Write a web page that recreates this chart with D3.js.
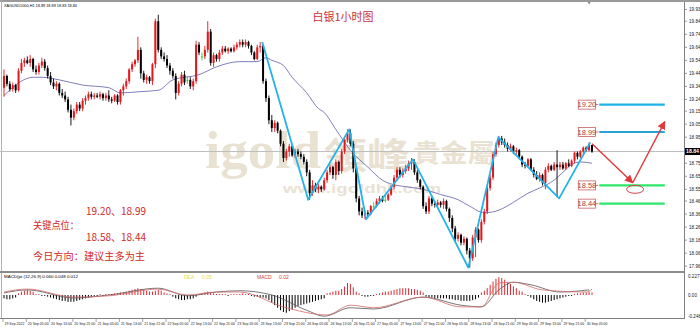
<!DOCTYPE html>
<html><head><meta charset="utf-8">
<script src="https://cdn.jsdelivr.net/npm/d3@7/dist/d3.min.js"></script>
<style>html,body{margin:0;padding:0;background:#fff;overflow:hidden}svg{display:block}</style>
</head><body><svg id="c" width="700" height="328"></svg>
<script>
// ---------- DATA ----------
const openP = [19.33,19.42,19.36,19.32,19.35,19.31,19.46,19.52,19.54,19.52,19.55,19.47,19.45,19.50,19.53,19.48,19.42,19.37,19.34,19.36,
19.29,19.27,19.24,19.16,19.10,19.15,19.20,19.17,19.23,19.25,19.28,19.26,19.27,19.26,19.28,19.25,19.27,19.24,19.23,19.27,
19.22,19.31,19.34,19.38,19.47,19.51,19.54,19.62,19.44,19.39,19.41,19.38,19.51,19.84,19.62,19.57,19.55,19.50,19.46,19.42,
19.29,19.36,19.43,19.39,19.39,19.34,19.38,19.66,19.57,19.57,19.62,19.76,19.52,19.58,19.55,19.60,19.63,19.61,19.63,19.61,
19.64,19.66,19.68,19.66,19.68,19.65,19.60,19.55,19.64,19.65,19.38,19.25,19.08,19.02,19.06,19.00,18.90,18.79,18.84,18.88,
18.81,18.84,18.82,18.80,18.76,18.68,18.52,18.58,18.55,18.57,18.55,18.62,18.68,18.72,18.66,18.76,18.69,18.84,18.93,18.98,
18.90,18.71,18.48,18.38,18.35,18.37,18.36,18.42,18.42,18.46,18.48,18.47,18.47,18.51,18.57,18.64,18.70,18.66,18.69,18.71,
18.75,18.76,18.68,18.62,18.57,18.42,18.38,18.48,18.44,18.43,18.45,18.43,18.46,18.40,18.33,18.25,18.17,18.20,18.14,18.17,
18.08,18.02,18.18,18.24,18.16,18.30,18.38,18.56,18.64,18.82,18.89,18.94,18.91,18.89,18.86,18.88,18.84,18.85,18.80,18.74,
18.73,18.78,18.70,18.66,18.63,18.66,18.60,18.70,18.73,18.70,18.74,18.72,18.74,18.71,18.75,18.73,18.77,18.83,18.80,18.84,
18.87,18.85,18.89];
const highP = [19.47,19.43,19.38,19.37,19.36,19.48,19.55,19.56,19.57,19.58,19.56,19.50,19.52,19.56,19.55,19.50,19.45,19.40,19.38,19.37,
19.32,19.30,19.26,19.20,19.17,19.22,19.22,19.25,19.27,19.30,19.30,19.29,19.29,19.30,19.29,19.29,19.31,19.26,19.28,19.28,
19.32,19.36,19.40,19.48,19.53,19.55,19.72,19.64,19.46,19.43,19.42,19.52,19.86,19.89,19.64,19.60,19.58,19.52,19.48,19.44,
19.38,19.45,19.46,19.42,19.41,19.40,19.69,19.68,19.60,19.65,19.84,19.78,19.60,19.59,19.62,19.65,19.65,19.64,19.64,19.66,
19.68,19.70,19.70,19.70,19.69,19.66,19.61,19.66,19.68,19.66,19.40,19.27,19.12,19.08,19.07,19.01,18.92,18.86,18.90,18.89,
18.86,18.86,18.84,18.82,18.78,18.70,18.62,18.60,18.59,18.58,18.64,18.70,18.74,18.73,18.78,18.77,18.86,18.95,19.01,19.01,
18.92,18.73,18.50,18.41,18.39,18.39,18.43,18.45,18.48,18.50,18.50,18.50,18.52,18.58,18.66,18.72,18.72,18.71,18.74,18.77,
18.79,18.78,18.70,18.63,18.58,18.45,18.50,18.49,18.46,18.47,18.46,18.48,18.47,18.41,18.35,18.27,18.22,18.21,18.19,18.18,
18.10,18.20,18.26,18.25,18.32,18.40,18.58,18.66,18.84,18.91,18.96,18.96,18.94,18.91,18.90,18.89,18.87,18.86,18.81,18.76,
18.79,18.79,18.72,18.69,18.68,18.67,18.72,18.75,18.74,18.76,18.85,18.76,18.76,18.76,18.78,18.78,18.84,18.84,18.85,18.88,
18.88,18.91,18.89];
const lowP = [19.26,19.34,19.30,19.30,19.29,19.30,19.44,19.49,19.51,19.49,19.45,19.43,19.43,19.48,19.46,19.40,19.35,19.32,19.31,19.27,
19.25,19.22,19.14,19.04,19.08,19.13,19.15,19.15,19.20,19.23,19.24,19.24,19.25,19.24,19.23,19.23,19.22,19.21,19.22,19.20,
19.20,19.27,19.32,19.36,19.45,19.49,19.52,19.40,19.37,19.36,19.36,19.35,19.48,19.60,19.55,19.53,19.48,19.43,19.40,19.24,
19.27,19.34,19.35,19.36,19.32,19.31,19.36,19.58,19.54,19.55,19.60,19.50,19.49,19.53,19.53,19.58,19.60,19.59,19.60,19.60,
19.62,19.64,19.64,19.64,19.63,19.58,19.54,19.54,19.60,19.36,19.22,19.05,18.99,18.99,18.98,18.88,18.76,18.77,18.80,18.80,
18.79,18.80,18.78,18.74,18.65,18.47,18.50,18.53,18.52,18.53,18.54,18.60,18.66,18.63,18.62,18.66,18.67,18.82,18.91,18.88,
18.68,18.45,18.35,18.33,18.32,18.34,18.35,18.40,18.41,18.44,18.45,18.45,18.46,18.50,18.55,18.62,18.64,18.64,18.67,18.69,
18.70,18.66,18.60,18.55,18.40,18.36,18.36,18.42,18.41,18.41,18.41,18.40,18.38,18.30,18.22,18.15,18.15,18.12,18.12,18.05,
17.95,18.00,18.03,18.14,18.14,18.28,18.36,18.54,18.62,18.80,18.87,18.89,18.87,18.84,18.84,18.82,18.81,18.78,18.72,18.71,
18.72,18.69,18.64,18.62,18.61,18.58,18.55,18.68,18.69,18.69,18.49,18.70,18.70,18.70,18.72,18.72,18.75,18.78,18.79,18.82,
18.84,18.84,18.83];
const closeP = [19.42,19.36,19.32,19.35,19.31,19.46,19.52,19.54,19.52,19.55,19.47,19.45,19.50,19.53,19.48,19.42,19.37,19.34,19.36,19.29,
19.27,19.24,19.16,19.10,19.15,19.20,19.17,19.23,19.25,19.28,19.26,19.27,19.26,19.28,19.25,19.27,19.24,19.23,19.27,19.22,
19.31,19.34,19.38,19.47,19.51,19.54,19.62,19.44,19.39,19.41,19.38,19.51,19.84,19.62,19.57,19.55,19.50,19.46,19.42,19.29,
19.36,19.43,19.37,19.39,19.34,19.38,19.66,19.60,19.57,19.62,19.76,19.52,19.58,19.55,19.60,19.63,19.61,19.63,19.61,19.64,
19.66,19.68,19.66,19.68,19.65,19.60,19.55,19.64,19.65,19.38,19.25,19.08,19.02,19.06,19.00,18.90,18.79,18.84,18.88,18.81,
18.84,18.82,18.80,18.76,18.68,18.52,18.58,18.55,18.57,18.55,18.62,18.68,18.72,18.66,18.76,18.69,18.84,18.93,18.98,18.90,
18.71,18.48,18.38,18.35,18.37,18.36,18.42,18.42,18.46,18.48,18.46,18.47,18.51,18.57,18.64,18.70,18.66,18.69,18.71,18.75,
18.76,18.68,18.62,18.57,18.42,18.38,18.48,18.44,18.43,18.45,18.43,18.46,18.40,18.33,18.25,18.17,18.20,18.14,18.17,18.08,
18.02,18.18,18.24,18.16,18.30,18.38,18.56,18.64,18.82,18.89,18.94,18.91,18.89,18.86,18.88,18.84,18.85,18.80,18.74,18.73,
18.78,18.70,18.66,18.63,18.66,18.60,18.70,18.73,18.70,18.74,18.72,18.74,18.71,18.75,18.73,18.77,18.83,18.80,18.84,18.87,
18.85,18.89,18.84];

// moving average (read at sample bars)
const maBar = [0,10,13,19,27,36,40,47,53,58,67,73,81,87,90,92,96,99,104,108,110,114,119,125,130,135,138,144,150,156,160,165,170,175,180,184,189,192,195,198,202];
const maVal = [19.27,19.41,19.41,19.39,19.35,19.33,19.29,19.30,19.31,19.39,19.43,19.49,19.53,19.53,19.56,19.54,19.50,19.41,19.29,19.17,19.14,19.01,18.85,18.72,18.62,18.58,18.57,18.55,18.51,18.47,18.42,18.37,18.39,18.45,18.52,18.56,18.62,18.68,18.74,18.76,18.75];

// MACD histogram, one value per bar
const macdHist = [-0.04,-0.05,-0.05,-0.04,-0.03, 0.02,0.04,0.05,0.06,0.05,0.04, 0.01,0.01,-0.01,-0.01,
-0.02,-0.03,-0.04,-0.05,-0.06,-0.07,-0.07,-0.08,-0.08,-0.08,-0.07,-0.06,-0.05,-0.04,-0.03,
-0.02,-0.01,-0.01,0.01,-0.01,0.01,0.01,0.01,0.02,
0.02,0.03,0.03,0.04,0.05,0.06,0.07,0.08,0.07,0.06,0.05,0.04,
0.04,0.05,0.06,0.05,0.03,0.02, 0.01,
-0.02,-0.04,-0.05,-0.06,-0.06,-0.05,-0.05,-0.04,-0.02,
0.01,0.02,0.03,0.04,0.03,0.02,
0.01,0.01,0.01,0.01,-0.01,0.01,0.01,0.01,
0.01,0.02,0.01,0.01,-0.01,
-0.02,-0.02,-0.03,-0.03,-0.04,-0.06,
-0.09,-0.12,-0.15,-0.18,-0.20,-0.21,-0.19,-0.17,
-0.15,-0.13,-0.12,-0.11,-0.10,-0.09,-0.08,-0.07,-0.06,-0.05,-0.04,
0.02,0.03,0.04,0.05,0.05,
0.07,0.10,0.14,0.13,0.09,0.04,0.02,
-0.01,-0.02,-0.02,-0.01,-0.01,
0.01,0.02,0.03,0.04,0.04,0.05,0.06,0.07,0.08,0.08,0.08,0.08,0.07,0.07,0.06,0.05,0.03,
-0.02,-0.03,-0.03,-0.04,-0.04,-0.04,-0.04,-0.04,-0.05,-0.05,-0.06,-0.06,-0.07,-0.07,-0.07,-0.07,-0.06,-0.05,-0.03,
0.03,0.05,0.08, 0.12,0.16,0.19,0.21,0.20,
0.18,0.15,0.13,0.10,0.08,0.05,0.04, 0.01,-0.01,
-0.03,-0.05,-0.07,-0.08,-0.09,-0.09,-0.08,-0.07,-0.06,-0.05,-0.04,
-0.03,-0.02,-0.01,-0.01,
0.01,0.02,0.02,0.03,0.03,0.04,0.03];
const difBar = [0,8,24,36,53,63,73,81,92,104,110,119,127,144,157,164,170,175,181,191,201];
const difVal = [0.024,0.06,-0.035,0.0,0.08,-0.01,0.035,0.05,0.0,-0.18,-0.25,-0.15,-0.165,-0.025,-0.12,-0.14,0.06,0.15,0.12,0.035,0.06];
const deaBar = [0,8,24,36,53,63,73,81,96,111,119,127,144,157,164,170,175,185,200,202];
const deaVal = [0.035,0.07,-0.025,-0.01,0.07,0.0,0.035,0.035,-0.14,-0.235,-0.12,-0.15,-0.025,-0.14,-0.14,0.14,0.15,0.06,0.035,0.07];

// zigzag
const zzBar = [88.7,104.5,118.6,124.4,140.5,159.5,169.8,190.7,201.4];
const zzPrice = [19.68,18.47,19.01,18.32,18.78,17.95,18.95,18.48,18.91];

// forecast arrows
const fcBar = [202,216,227];
const fcPrice = [18.90,18.60,19.07];

// key levels
const levelVals = [19.20,18.99,18.58,18.44];
const levelLabels = ["19.20","18.99","18.58","18.44"];
const levelColors = ["#1cb4ea","#2aa3d6","#2ee86a","#2ee86a"];

// axis labels
const priceTicks = ["19.93","19.84","19.74","19.64","19.54","19.44","19.34","19.24","19.15","19.05","18.95","18.85","18.75","18.65","18.55","18.46","18.36","18.26","18.16","18.06","17.96"];
const macdTicks = ["0.227","0.00","-0.248"];
const timeLabels = ["19 Sep 2022","20 Sep 05:00","20 Sep 13:00","20 Sep 21:00","21 Sep 05:00","21 Sep 13:00","21 Sep 21:00","22 Sep 05:00","22 Sep 13:00","22 Sep 21:00","23 Sep 05:00","23 Sep 13:00","23 Sep 21:00","26 Sep 05:00","26 Sep 13:00","26 Sep 21:00","27 Sep 05:00","27 Sep 13:00","27 Sep 21:00","28 Sep 05:00","28 Sep 13:00","28 Sep 21:00","29 Sep 05:00","29 Sep 13:00","29 Sep 21:00","30 Sep 05:00"];
const lastPrice = 18.84;

// ---------- DRAW ----------
const svg = d3.select("#c");
const x = d3.scaleLinear().domain([0,202]).range([4,592]);
const y = d3.scaleLinear().domain([17.923,19.980]).range([271,3]);
const ym = d3.scaleLinear().domain([-0.271,0.259]).range([318,273]);
const AX = 684;
const small = "Liberation Sans, Arial, sans-serif";
const cjk = "'Noto Sans CJK SC', sans-serif";

svg.append("rect").attr("width",700).attr("height",328).attr("fill","#fff");

// watermark
const wm = svg.append("g").attr("fill","#e9e2d2").attr("font-weight","bold");
wm.append("text").attr("x",205).attr("y",168).attr("font-family","Liberation Serif, serif")
  .attr("font-size",52).attr("textLength",116).attr("lengthAdjust","spacingAndGlyphs").text("igold");
wm.append("text").attr("x",324).attr("y",169).attr("font-family",cjk)
  .attr("font-size",36).attr("textLength",86).attr("lengthAdjust","spacingAndGlyphs").text("領峰");
wm.append("text").attr("x",413).attr("y",162).attr("font-family",cjk)
  .attr("font-size",25).attr("textLength",82).attr("lengthAdjust","spacingAndGlyphs").text("貴金屬");
wm.append("text").attr("x",283).attr("y",193).attr("font-family","Liberation Sans, sans-serif")
  .attr("font-size",12).attr("textLength",158).attr("lengthAdjust","spacingAndGlyphs").text("www.igoldhk.com");

// frame
svg.append("line").attr("x1",0).attr("x2",700).attr("y1",1).attr("y2",1).attr("stroke","#9a9a9a").attr("stroke-width",2);
svg.append("line").attr("x1",1.5).attr("x2",1.5).attr("y1",0).attr("y2",318).attr("stroke","#b0b0b0").attr("stroke-width",1);
svg.append("line").attr("x1",AX+0.5).attr("x2",AX+0.5).attr("y1",2).attr("y2",319).attr("stroke","#808080").attr("stroke-width",1);
svg.append("line").attr("x1",0).attr("x2",AX).attr("y1",272).attr("y2",272).attr("stroke","#8c8c8c").attr("stroke-width",2);
svg.append("line").attr("x1",0).attr("x2",AX).attr("y1",318.5).attr("y2",318.5).attr("stroke","#808080").attr("stroke-width",1);
svg.append("path").attr("d",`M${x(200.5)},2 l3,0 l-1.5,2.5 z`).attr("fill","#888");

// current price line
svg.append("line").attr("x1",0).attr("x2",AX).attr("y1",y(lastPrice)).attr("y2",y(lastPrice)).attr("stroke","#bdbdbd").attr("stroke-width",1);

// MA
svg.append("path").datum(maBar.map((b,i)=>[b,maVal[i]])).attr("fill","none").attr("stroke","#6f6fb4").attr("stroke-width",0.9)
  .attr("d",d3.line().x(d=>x(d[0])).y(d=>y(d[1])).curve(d3.curveMonotoneX));

// candles
const candleColor = i => closeP[i]>openP[i] ? "#e4151b" : (closeP[i]<openP[i] ? "#000" : "#2ecc40");
const cg = svg.append("g");
openP.forEach((o,i)=>{
  const cx = x(i), col = candleColor(i);
  cg.append("line").attr("x1",cx).attr("x2",cx).attr("y1",y(highP[i])).attr("y2",y(lowP[i])).attr("stroke",col).attr("stroke-width",0.9);
  const t = y(Math.max(o,closeP[i])), b = y(Math.min(o,closeP[i]));
  cg.append("rect").attr("x",cx-1).attr("y",t).attr("width",2).attr("height",Math.max(1,b-t)).attr("fill",col);
});

// zigzag
svg.append("path").datum(zzBar.map((b,i)=>[b,zzPrice[i]])).attr("fill","none").attr("stroke","#23b3e8").attr("stroke-width",1.8)
  .attr("stroke-linejoin","round").attr("d",d3.line().x(d=>x(d[0])).y(d=>y(d[1])));

// key levels
levelVals.forEach((v,i)=>{
  const yy = y(v);
  svg.append("line").attr("x1",x(204.5)).attr("x2",x(227)).attr("y1",yy).attr("y2",yy).attr("stroke",levelColors[i]).attr("stroke-width",2.2);
  svg.append("line").attr("x1",x(203.2)).attr("x2",x(204.2)).attr("y1",yy).attr("y2",yy).attr("stroke","#c05050").attr("stroke-width",0.8);
  svg.append("rect").attr("x",x(197.3)).attr("y",yy-4.5).attr("width",x(203.2)-x(197.3)).attr("height",9).attr("fill","#fff").attr("stroke","#c86060").attr("stroke-width",0.8);
  svg.append("text").attr("x",(x(197.3)+x(203.2))/2).attr("y",yy+2.6).attr("text-anchor","middle").attr("font-family",small)
    .attr("font-size",7.5).attr("fill","#b03a3a").text(levelLabels[i]);
});

// forecast arrows
const defs = svg.append("defs");
defs.append("marker").attr("id","ah").attr("viewBox","0 0 10 10").attr("refX",9).attr("refY",5).attr("markerWidth",6).attr("markerHeight",6)
  .attr("orient","auto").append("path").attr("d","M0,0 L10,5 L0,10 z").attr("fill","#e0393e");
for (let k=0;k<2;k++){
  svg.append("line").attr("x1",x(fcBar[k])).attr("y1",y(fcPrice[k])).attr("x2",x(fcBar[k+1])).attr("y2",y(fcPrice[k+1]))
    .attr("stroke","#e0393e").attr("stroke-width",1.4).attr("marker-end","url(#ah)");
}
svg.append("ellipse").attr("cx",x(fcBar[1]+0.8)).attr("cy",y(fcPrice[1]-0.05)).attr("rx",8.5).attr("ry",4).attr("fill","none").attr("stroke","#d9434a").attr("stroke-width",1);

// MACD
const mg = svg.append("g");
macdHist.forEach((v,i)=>{
  mg.append("line").attr("x1",x(i)).attr("x2",x(i)).attr("y1",ym(0)).attr("y2",Math.abs(v)<0.012 ? ym(0)+(v>=0?-1:1) : ym(v))
    .attr("stroke", v>=0 ? "#e0282e" : "#000").attr("stroke-width",1);
});
svg.append("path").datum(difBar.map((b,i)=>[b,difVal[i]])).attr("fill","none").attr("stroke","#555").attr("stroke-width",0.8)
  .attr("d",d3.line().x(d=>x(d[0])).y(d=>ym(d[1])).curve(d3.curveMonotoneX));
svg.append("path").datum(deaBar.map((b,i)=>[b,deaVal[i]])).attr("fill","none").attr("stroke","#d46a6a").attr("stroke-width",0.8)
  .attr("d",d3.line().x(d=>x(d[0])).y(d=>ym(d[1])).curve(d3.curveMonotoneX));
svg.append("text").attr("x",4).attr("y",278).attr("font-family",small).attr("font-size",4.2).attr("fill","#000")
  .attr("textLength",74).attr("lengthAdjust","spacingAndGlyphs").text("MACD(pt (12,26,9) 0.060 0.048 0.012");
svg.append("text").attr("x",184).attr("y",279).attr("font-family",small).attr("font-size",5).attr("fill","#e6e040").text("DEA");
svg.append("text").attr("x",202).attr("y",279).attr("font-family",small).attr("font-size",5).attr("fill","#e6e040").text("0.05");
svg.append("text").attr("x",257).attr("y",279).attr("font-family",small).attr("font-size",5).attr("fill","#d04040").text("MACD");
svg.append("text").attr("x",279).attr("y",279).attr("font-family",small).attr("font-size",5).attr("fill","#d04040").text("0.02");

// top-left header
svg.append("text").attr("x",4).attr("y",7).attr("font-family",small).attr("font-size",4.2).attr("fill","#000")
  .attr("textLength",73).attr("lengthAdjust","spacingAndGlyphs").text("XAGUSD1000,H1  18.89 18.89 18.83 18.84");

// price axis (ticks hidden under the current-price box are not labelled)
priceTicks.forEach(t=>{
  const yy = y(+t);
  svg.append("line").attr("x1",AX).attr("x2",AX+3).attr("y1",yy).attr("y2",yy).attr("stroke","#808080").attr("stroke-width",0.8);
  if (Math.abs(yy - y(lastPrice)) > 6)
    svg.append("text").attr("x",AX+5).attr("y",yy+1.6).attr("font-family",small).attr("font-size",4.6).attr("fill","#222").text(t);
});
svg.append("rect").attr("x",AX+1).attr("y",y(lastPrice)-3.5).attr("width",15).attr("height",7).attr("fill","#000");
svg.append("text").attr("x",AX+2).attr("y",y(lastPrice)+1.8).attr("font-family",small).attr("font-size",5.2).attr("fill","#fff").attr("font-weight","bold").text(lastPrice.toFixed(2));
macdTicks.forEach(t=>{
  const yy = Math.min(ym(+t)+1.6, 317.5);
  svg.append("text").attr("x",AX+4).attr("y",yy+ (t==="0.227"?1:0)).attr("font-family",small).attr("font-size",4.6).attr("fill","#222").text(t);
});

// time axis
timeLabels.forEach((t,k)=>{
  const xx = x(k*8)-1;
  svg.append("line").attr("x1",xx).attr("x2",xx).attr("y1",318).attr("y2",322).attr("stroke","#808080").attr("stroke-width",0.7);
  svg.append("text").attr("x",xx+1.5).attr("y",324.5).attr("font-family",small).attr("font-size",3.5).attr("fill","#222").text(t);
});

// title
svg.append("text").attr("x",343).attr("y",21).attr("text-anchor","middle").attr("font-family",cjk).attr("font-size",11)
  .attr("fill","#c8323c").text("白银1小时图");

// key text
const red = "#d02a2a";
const kt = svg.append("g").attr("font-family",cjk).attr("fill",red);
kt.append("text").attr("x",86).attr("y",215).attr("font-size",11).attr("textLength",60).attr("lengthAdjust","spacingAndGlyphs").text("19.20、18.99");
kt.append("text").attr("x",33).attr("y",229).attr("font-size",10).attr("textLength",46).attr("lengthAdjust","spacingAndGlyphs").text("关键点位：");
kt.append("text").attr("x",86).attr("y",241).attr("font-size",11).attr("textLength",60).attr("lengthAdjust","spacingAndGlyphs").text("18.58、18.44");
kt.append("text").attr("x",33).attr("y",260).attr("font-size",10).attr("textLength",112).attr("lengthAdjust","spacingAndGlyphs").text("今日方向：建议主多为主");
</script></body></html>
